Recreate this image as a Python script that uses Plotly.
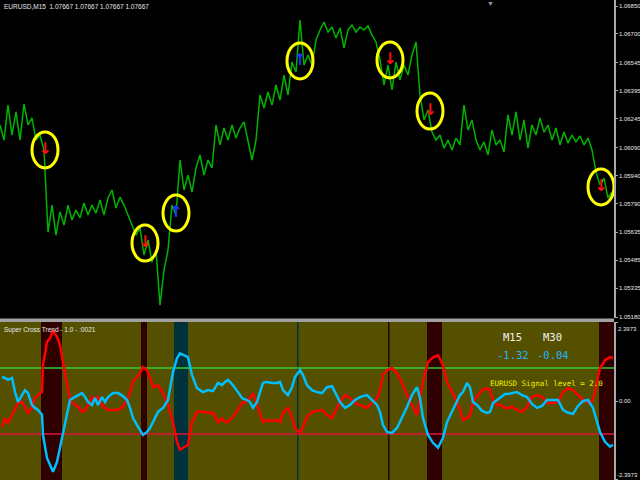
import plotly.graph_objects as go

# EURUSD M15 价格 (每 4 根K线取一个值)
price_bars = list(range(0, 613, 4))
price = [
    1.06211, 1.06130, 1.06318, 1.06157, 1.06281, 1.06130, 1.06324, 1.06211, 1.06249, 1.06130,
    1.06157, 1.06077, 1.05636, 1.05781, 1.05620, 1.05744, 1.05674, 1.05781, 1.05701, 1.05754,
    1.05712, 1.05792, 1.05728, 1.05781, 1.05738, 1.05808, 1.05728, 1.05819, 1.05862, 1.05765,
    1.05824, 1.05781, 1.05728, 1.05674, 1.05620, 1.05658, 1.05513, 1.05593, 1.05475, 1.05540,
    1.05244, 1.05432, 1.05540, 1.05781, 1.05728, 1.06023, 1.05862, 1.05942, 1.05851, 1.05980,
    1.06050, 1.05942, 1.06023, 1.05980, 1.06211, 1.06104, 1.06195, 1.06130, 1.06211, 1.06141,
    1.06195, 1.06227, 1.06130, 1.06023, 1.06130, 1.06372, 1.06302, 1.06388, 1.06318, 1.06426,
    1.06345, 1.06479, 1.06372, 1.06549, 1.06496, 1.06775, 1.06533, 1.06587, 1.06533, 1.06667,
    1.06721, 1.06764, 1.06710, 1.06737, 1.06678, 1.06732, 1.06624, 1.06721, 1.06748, 1.06710,
    1.06737, 1.06721, 1.06743, 1.06694, 1.06657, 1.06560, 1.06426, 1.06533, 1.06399, 1.06549,
    1.06453, 1.06533, 1.06479, 1.06587, 1.06657, 1.06372, 1.06238, 1.06292, 1.06173, 1.06130,
    1.06157, 1.06087, 1.06130, 1.06077, 1.06141, 1.06104, 1.06318, 1.06184, 1.06238, 1.06130,
    1.06077, 1.06120, 1.06050, 1.06184, 1.06104, 1.06130, 1.06066, 1.06265, 1.06157, 1.06281,
    1.06130, 1.06238, 1.06087, 1.06211, 1.06157, 1.06249, 1.06173, 1.06211, 1.06130, 1.06195,
    1.06104, 1.06173, 1.06114, 1.06157, 1.06120, 1.06152, 1.06104, 1.06141, 1.06077, 1.05959,
    1.05889, 1.05926, 1.05819, 1.05851,
]

# 信号箭头
signal_bars = [45, 145, 176, 300, 390, 430, 601]
signal_price = [1.06077, 1.05577, 1.05738, 1.06555, 1.06560, 1.06286, 1.05878]
signal_dir = ["down", "down", "up", "up", "down", "down", "down"]

# Super Cross Trend 指标
ind_bars = [
    2, 5, 8, 12, 15, 18, 22, 25, 28, 32, 35, 38, 42, 43, 47, 50, 53, 57, 60, 63,
    67, 70, 73, 78, 82, 85, 88, 92, 95, 98, 102, 105, 108, 113, 118, 123, 127, 130, 133, 137,
    140, 143, 147, 150, 153, 158, 163, 168, 173, 177, 180, 185, 188, 192, 197, 203, 208, 213, 218, 222,
    225, 228, 233, 238, 242, 247, 250, 253, 257, 260, 263, 267, 272, 277, 280, 283, 288, 292, 295, 300,
    303, 307, 312, 317, 322, 327, 332, 335, 340, 345, 350, 355, 360, 367, 372, 377, 380, 383, 387, 392,
    397, 402, 407, 412, 417, 420, 423, 428, 433, 438, 443, 447, 452, 457, 460, 463, 467, 470, 473, 477,
    482, 487, 490, 493, 497, 500, 505, 508, 512, 517, 522, 527, 532, 537, 542, 547, 553, 558, 563, 568,
    573, 578, 583, 588, 593, 597, 600, 605, 610, 613,
]
blue_line = [
    0.73, 0.70, 0.64, 0.70, 0.27, -0.03, 0.18, 0.33, 0.24, -0.12,
    -0.21, -0.27, -0.42, -1.03, -1.73, -1.94, -2.15, -1.85, -1.42, -0.94,
    -0.42, 0.03, 0.09, 0.18, 0.24, 0.12, -0.03, -0.12, 0.09, -0.12,
    0.12, -0.03, 0.12, 0.24, 0.24, 0.15, 0.03, -0.21, -0.52, -0.73,
    -0.88, -1.03, -0.94, -0.82, -0.64, -0.33, -0.21, 0.03, 0.88, 1.30,
    1.45, 1.39, 1.33, 0.79, 0.39, 0.27, 0.33, 0.30, 0.55, 0.48,
    0.58, 0.64, 0.48, 0.27, 0.09, 0.03, -0.03, -0.21, -0.03, 0.27,
    0.55, 0.58, 0.55, 0.55, 0.58, 0.33, 0.18, 0.42, 0.73, 0.94,
    0.79, 0.48, 0.33, 0.27, 0.24, 0.42, 0.45, 0.27, -0.03, -0.21,
    -0.12, 0.03, 0.12, 0.18, 0.03, -0.12, -0.33, -0.73, -0.94, -0.97,
    -0.82, -0.52, -0.18, 0.18, 0.42, 0.09, -0.52, -1.03, -1.27, -1.42,
    -1.12, -0.64, -0.33, -0.03, 0.18, 0.27, 0.55, 0.42, -0.03, -0.12,
    -0.30, -0.36, -0.33, -0.06, 0.03, 0.12, 0.21, 0.21, 0.24, 0.27,
    0.18, 0.12, -0.09, -0.21, -0.15, 0.03, 0.03, 0.03, -0.27, -0.36,
    -0.39, -0.15, 0.00, 0.03, -0.21, -0.64, -0.94, -1.24, -1.39, -1.33,
]
red_line = [
    -0.79, -0.52, -0.67, -0.42, -0.27, -0.06, -0.03, -0.21, -0.36, -0.21,
    0.09, 0.18, 0.27, 1.09, 1.79, 1.91, 2.15, 1.94, 1.70, 1.18,
    0.58, 0.03, -0.06, -0.18, -0.33, -0.27, -0.12, 0.12, 0.03, 0.12,
    -0.12, -0.21, -0.27, -0.27, -0.27, -0.18, 0.03, 0.27, 0.58, 0.73,
    0.85, 1.03, 0.94, 0.70, 0.42, 0.48, 0.24, -0.12, -0.64, -1.24,
    -1.48, -1.39, -1.33, -0.64, -0.33, -0.33, -0.36, -0.36, -0.64, -0.52,
    -0.64, -0.64, -0.48, -0.27, -0.06, -0.03, 0.09, 0.24, -0.12, -0.36,
    -0.64, -0.58, -0.61, -0.58, -0.64, -0.36, -0.21, -0.52, -0.82, -0.97,
    -0.79, -0.48, -0.33, -0.30, -0.27, -0.42, -0.52, -0.33, -0.03, 0.18,
    0.09, -0.06, -0.12, -0.21, -0.06, 0.09, 0.33, 0.79, 0.94, 1.00,
    0.85, 0.55, 0.18, -0.12, -0.42, 0.09, 0.58, 1.18, 1.33, 1.39,
    1.09, 0.58, 0.27, -0.03, -0.27, -0.58, -0.52, -0.42, -0.03, 0.12,
    0.33, 0.39, 0.33, 0.03, -0.12, -0.12, -0.21, -0.21, -0.18, -0.27,
    -0.33, -0.18, 0.12, 0.18, 0.12, -0.06, -0.06, -0.03, 0.27, 0.39,
    0.33, 0.18, 0.03, -0.06, 0.03, 0.58, 1.00, 1.24, 1.33, 1.30,
]

# 趋势区间 (背景色块)
zone_start = [41, 141, 174, 297, 388, 427, 599]
zone_end = [62, 147, 188, 298.5, 389.5, 442, 614]
zone_kind = ["sell", "sell", "buy", "buy", "sell", "sell", "sell"]

level_up = 1.0
level_dn = -1.0
ind_max = 2.3973

price_ticks = [1.06850, 1.06700, 1.06545, 1.06395, 1.06245, 1.06090,
               1.05940, 1.05790, 1.05635, 1.05485, 1.05335, 1.05180]

title_text = "EURUSD,M15\u00a0\u00a01.07667 1.07667 1.07667 1.07667"
ind_title = "Super Cross Trend - 1.0 - :0021"
tf_names = ["M15", "M30"]
tf_values = ["-1.32", "-0.04"]
signal_text = "EURUSD Signal level = 2.0"

W, H = 640, 480
PLOT_W = 614
SPLIT = 322  # 指标窗口顶部 (像素)

fig = go.Figure()

fig.add_trace(go.Scatter(
    x=price_bars, y=price, mode="lines",
    line=dict(color="#00b400", width=1.5),
    xaxis="x", yaxis="y", showlegend=False, hoverinfo="skip"
))

fig.add_trace(go.Scatter(
    x=signal_bars, y=signal_price, mode="text",
    text=["<b>\u2193</b>" if d == "down" else "<b>\u2191</b>" for d in signal_dir],
    textfont=dict(size=16, family="DejaVu Sans",
                  color=["#ff1010" if d == "down" else "#1e32ff" for d in signal_dir]),
    xaxis="x", yaxis="y", showlegend=False, hoverinfo="skip"
))

fig.add_trace(go.Scatter(
    x=ind_bars, y=red_line, mode="lines",
    line=dict(color="#ff0000", width=2.5),
    xaxis="x2", yaxis="y2", showlegend=False, hoverinfo="skip"
))
fig.add_trace(go.Scatter(
    x=ind_bars, y=blue_line, mode="lines",
    line=dict(color="#00bfff", width=2.5),
    xaxis="x2", yaxis="y2", showlegend=False, hoverinfo="skip"
))

shapes = []
# 指标窗口背景
shapes.append(dict(type="rect", xref="x2 domain", yref="y2 domain", x0=0, x1=1, y0=0, y1=1,
                   fillcolor="#545000", line=dict(width=0), layer="below"))
for s, e, k in zip(zone_start, zone_end, zone_kind):
    shapes.append(dict(type="rect", xref="x2", yref="y2 domain", x0=s, x1=e, y0=0, y1=1,
                       fillcolor="#2e0000" if k == "sell" else "#00323c",
                       line=dict(width=0), layer="below"))
shapes.append(dict(type="line", xref="x2 domain", yref="y2", x0=0, x1=1, y0=level_up, y1=level_up,
                   line=dict(color="#32cd32", width=1.5), layer="below"))
shapes.append(dict(type="line", xref="x2 domain", yref="y2", x0=0, x1=1, y0=level_dn, y1=level_dn,
                   line=dict(color="#dc143c", width=1.5), layer="below"))
# 信号圆圈
for b, p in zip(signal_bars, signal_price):
    shapes.append(dict(type="circle", xref="x", yref="y", xsizemode="pixel", ysizemode="pixel",
                       xanchor=b, yanchor=p, x0=-13, x1=13, y0=-18, y1=18,
                       line=dict(color="#ffff00", width=3)))
# 窗口分隔条
shapes.append(dict(type="rect", xref="paper", yref="paper", x0=0, x1=1,
                   y0=(H - SPLIT) / H, y1=(H - 318.5) / H,
                   fillcolor="#a0a0a0", line=dict(width=0), layer="above"))

small = dict(family="Liberation Sans", size=6.5, color="#e8e8e8")
axis_font = dict(family="Liberation Sans", size=6, color="#e8e8e8")
annotations = [
    dict(text=title_text, xref="paper", yref="paper", x=0.003, y=1 - 1 / H,
         xanchor="left", yanchor="top", showarrow=False, font=small),
    dict(text=ind_title, xref="paper", yref="y2 domain", x=0.003, y=0.985,
         xanchor="left", yanchor="top", showarrow=False, font=small),
    dict(text="\u25bc", xref="paper", yref="paper", x=490 / PLOT_W, y=1.004,
         xanchor="center", yanchor="top", showarrow=False,
         font=dict(size=7, color="#8a9ab0")),
    dict(text=f"{ind_max:.4f}", xref="paper", yref="y2 domain", x=1, xshift=2, y=0.99,
         xanchor="left", yanchor="top", showarrow=False, font=axis_font),
    dict(text=f"{-ind_max:.4f}", xref="paper", yref="y2 domain", x=1, xshift=1, y=0.0,
         xanchor="left", yanchor="bottom", showarrow=False, font=axis_font),
    dict(text=signal_text, xref="paper", yref="y2 domain", x=546 / PLOT_W, y=0.61,
         xanchor="center", yanchor="middle", showarrow=False,
         font=dict(family="DejaVu Sans Mono", size=7.5, color="#f0f000")),
]
for i, (n, v) in enumerate(zip(tf_names, tf_values)):
    cx = (512 + 40 * i) / PLOT_W
    annotations.append(dict(text=n, xref="paper", yref="y2 domain", x=cx, y=0.905,
                            xanchor="center", yanchor="middle", showarrow=False,
                            font=dict(family="DejaVu Sans Mono", size=10.5, color="#f0f0f0")))
    annotations.append(dict(text=v, xref="paper", yref="y2 domain", x=cx + 1 / PLOT_W, y=0.79,
                            xanchor="center", yanchor="middle", showarrow=False,
                            font=dict(family="DejaVu Sans Mono", size=10.5, color="#1eb4ff")))

price_top = 1.06850 + 6 * (1.06850 - 1.05180) / 311
price_bot = 1.05180 - 1 * (1.06850 - 1.05180) / 311

axis_common = dict(side="right", showgrid=False, zeroline=False, showline=True,
                   linecolor="#a8a8a8", linewidth=1.5, ticks="outside", ticklen=2,
                   tickcolor="#a8a8a8", tickfont=axis_font, ticklabelstandoff=0,
                   automargin=False, fixedrange=True)

fig.update_layout(
    template="none",
    width=W, height=H,
    margin=dict(l=0, r=W - PLOT_W, t=0, b=0),
    paper_bgcolor="#000000",
    plot_bgcolor="#000000",
    font=dict(family="Liberation Sans", size=7, color="#e8e8e8"),
    showlegend=False,
    xaxis=dict(domain=[0, 1], range=[0, PLOT_W], visible=False, anchor="y"),
    yaxis=dict(domain=[(H - 318) / H, 1], range=[price_bot, price_top], anchor="x",
               tickvals=price_ticks, ticktext=[f"{t:.5f}" for t in price_ticks], **axis_common),
    xaxis2=dict(domain=[0, 1], range=[0, PLOT_W], visible=False, anchor="y2", matches="x"),
    yaxis2=dict(domain=[0, (H - SPLIT) / H], range=[-2.4, 2.4], anchor="x2",
                tickvals=[ind_max, 0, -ind_max], ticktext=["", "0.00", ""], **axis_common),
    shapes=shapes,
    annotations=annotations,
)

# 页面默认有 8px 边距, 去掉以便图表贴齐窗口
fig.write_html("out.html", config={"displayModeBar": False},
               post_script="document.body.style.margin='0';")
